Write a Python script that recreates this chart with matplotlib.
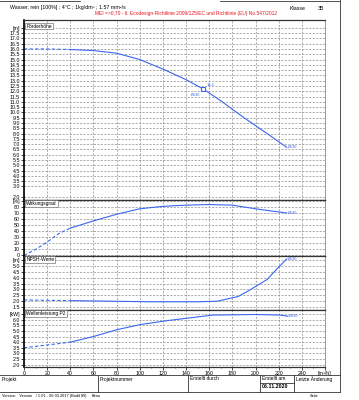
import matplotlib
matplotlib.use("Agg")
import matplotlib.pyplot as plt
from matplotlib.lines import Line2D

plt.rcParams['font.family'] = ['Liberation Sans', 'DejaVu Sans']

# pump curves
q_h = [0, 20, 40, 60, 80, 100, 120, 140, 155, 170, 190, 210, 227]
h = [16.0, 16.0, 15.95, 15.85, 15.6, 15.0, 14.1, 13.1, 12.2, 11.1, 9.5, 8.0, 6.7]

q_eta = [0, 10, 20, 30, 40, 60, 80, 100, 120, 140, 160, 180, 200, 215, 227]
eta = [0, 10, 22, 36, 45, 57, 68, 77, 81, 83, 84, 83, 77, 73, 70]

q_npsh = [0, 40, 109, 150, 167, 185, 195, 210, 218, 227]
npsh = [2.1, 2.05, 1.95, 1.95, 2.0, 2.4, 2.95, 3.85, 4.7, 5.6]

q_p2 = [0, 20, 40, 60, 80, 100, 123, 135, 163, 200, 221, 228]
p2 = [3.5, 3.75, 4.0, 4.5, 5.1, 5.55, 5.9, 6.05, 6.4, 6.45, 6.4, 6.3]

duty_q = 155
duty_h = 12.2

x_ticks = [0, 20, 40, 60, 80, 100, 120, 140, 160, 180, 200, 220, 240]
q_min = 40

W, H = 359, 400
BLUE = '#3a66f0'


def px(x, y):
    return x / W, 1 - y / H


def split_curve(q, v):
    # dashed below minimum flow, solid above
    lo_q, lo_v, hi_q, hi_v = [], [], [], []
    for a, b in zip(q, v):
        if a <= q_min:
            lo_q.append(a)
            lo_v.append(b)
        if a >= q_min:
            hi_q.append(a)
            hi_v.append(b)
    return lo_q, lo_v, hi_q, hi_v


def panel(top, bottom, ylim, yticks, unit, title, q, v, last=False):
    l, b = px(24, bottom)
    ax = fig.add_axes([l, b, (325 - 24) / W, (bottom - top) / H])
    ax.set_xlim(0, 260)
    ax.set_ylim(*ylim)
    ax.set_xticks(x_ticks)
    ax.set_xticks(range(0, 261, 10), minor=True)
    ax.set_yticks(yticks + [unit[0]])
    ax.set_yticklabels(['%.1f' % t if ylim[1] < 50 else '%d' % t for t in yticks] + [unit[1]])
    ax.grid(True, which='major', color='#8c8c8c', linestyle=(0, (3, 2)), linewidth=0.5)
    ax.tick_params(axis='both', labelsize=3.8, length=2, width=0.5, pad=1)
    ax.tick_params(axis='x', which='minor', length=1, width=0.4)
    for s in ['top', 'bottom']:
        ax.spines[s].set_linewidth(0.9)
        ax.spines[s].set_color('#333333')
    ax.spines['left'].set_linewidth(1.2)
    ax.spines['right'].set_linewidth(0.6)
    ax.spines['right'].set_color('#888888')
    if not last:
        ax.tick_params(axis='x', labelbottom=False, length=0, which='both')
    lo_q, lo_v, hi_q, hi_v = split_curve(q, v)
    ax.plot(lo_q, lo_v, color=BLUE, lw=0.8, ls=(0, (3, 2)))
    ax.plot(hi_q, hi_v, color=BLUE, lw=0.8)
    ax.text(q[-1] + 1, v[-1], '\u00d8130', color=BLUE, fontsize=2.8, va='center', ha='left')
    ax.text(2, ylim[1] - (ylim[1] - ylim[0]) * 0.02, title, fontsize=3.5, va='top', ha='left',
            bbox=dict(facecolor='white', edgecolor='#555555', lw=0.4, pad=0.6))
    return ax


fig = plt.figure(figsize=(W / 100, H / 100), dpi=100)

ax1 = panel(20, 200, (1.72, 18.74), [2.0 + 0.5 * i for i in range(32) if i != 1], (18.0, '[m]'),
            'F\u00f6rderh\u00f6he', q_h, h)
ax1.plot([duty_q], [duty_h], marker='s', ms=3, mfc='white', mec=BLUE, mew=0.8)
ax1.text(duty_q + 3, duty_h + 0.3, '12,2', color=BLUE, fontsize=2.8)
ax1.text(duty_q - 3, duty_h - 0.4, '\u00d8130', color=BLUE, fontsize=2.8, ha='right', va='top')

panel(200, 256, (-1, 91.5), [0, 10, 20, 30, 40, 50, 60, 70, 80], (90, '[%]'),
      'Wirkungsgrad', q_eta, eta)
panel(256, 310, (1.25, 5.85), [1.5 + 0.5 * i for i in range(8)], (5.5, '[m]'),
      'NPSH-Werte', q_npsh, npsh)
ax4 = panel(310, 367, (1.8, 6.85), [2.0 + 0.5 * i for i in range(9)], (6.5, '[kW]'),
            'Wellenleistung P2', q_p2, p2, last=True)
ax4.set_xticks(x_ticks + [260])
ax4.set_xticklabels([str(t) for t in x_ticks] + ['[m\u00b3/h]'])

# header
fig.text(*px(10, 8), 'Wasser, rein [100%] ; 4\u00b0C ; 1kg/dm\u00b3 ; 1.57 mm\u00b2/s', fontsize=3.8, va='center')
fig.text(*px(95, 14), 'MEI =>0,70 - lt. Ecodesign-Richtlinie 2009/125/EC und Richtlinie (EU) No.547/2012',
         fontsize=3.5, color='#e8141e', va='center')
fig.text(*px(290, 9), 'Klasse', fontsize=3.8, va='center')
fig.text(*px(318, 9), '3B', fontsize=3.8, va='center')

# page frame and title block
lines = [
    ((340, 340), (0, 392)),
    ((0, 340), (375, 375)),
    ((0, 340), (392, 392)),
    ((98, 98), (375, 392)),
    ((188, 188), (375, 392)),
    ((260, 260), (375, 392)),
    ((294, 294), (375, 392)),
    ((260, 294), (383, 383)),
    ((0, 80), (1, 1)),
    ((220, 340), (1, 1)),
]
for xs, ys in lines:
    fig.add_artist(Line2D([x / W for x in xs], [1 - y / H for y in ys], color='#333333', lw=0.6))

cells = [(2, 'Projekt'), (100, 'Projektnummer'), (190, 'Erstellt durch'),
         (262, 'Erstellt am'), (296, 'Letzte \u00c4nderung')]
for x, t in cells:
    fig.text(*px(x, 379), t, fontsize=3.5, va='center')
fig.text(*px(262, 387), '06.11.2020', fontsize=3.8, va='center', weight='bold')
fig.text(*px(2, 396), 'Version:   Version   / 1.01 - 06.03.2017 (Build 89)', fontsize=2.8, va='center')
fig.text(*px(92, 396), 'Benu', fontsize=2.8, va='center')
fig.text(*px(310, 396), 'Seite', fontsize=2.8, va='center')

fig.savefig('out.png', dpi=100)
